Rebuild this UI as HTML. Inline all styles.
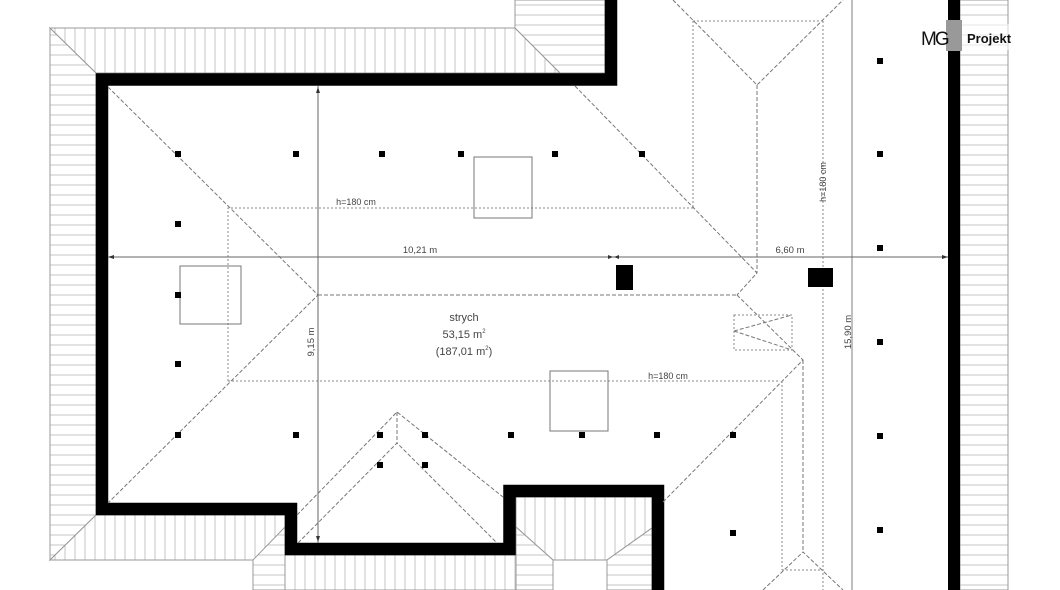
<!DOCTYPE html>
<html><head><meta charset="utf-8"><style>
html,body{margin:0;padding:0;background:#fff;}
svg{display:block;}
text{font-family:"Liberation Sans",sans-serif;fill:#444;}
</style></head><body>
<svg width="1060" height="590" viewBox="0 0 1060 590" xmlns="http://www.w3.org/2000/svg">
<defs>
<pattern id="hh" width="10" height="10" patternUnits="userSpaceOnUse"><rect width="10" height="10" fill="#fff"/><line x1="0" y1="5" x2="10" y2="5" stroke="#c4c4c4" stroke-width="1"/></pattern>
<pattern id="vv" width="10" height="10" patternUnits="userSpaceOnUse"><rect width="10" height="10" fill="#fff"/><line x1="5" y1="0" x2="5" y2="10" stroke="#c4c4c4" stroke-width="1"/></pattern>
</defs>

<polygon points="50,28 96,73 96,515 50,560" fill="url(#hh)" stroke="#999" stroke-width="1"/>
<polygon points="50,28 515,28 560,73 96,73" fill="url(#vv)" stroke="#999" stroke-width="1"/>
<polygon points="515,0 605,0 605,73 560,73 515,28" fill="url(#hh)" stroke="#999" stroke-width="1"/>
<polygon points="50,560 96,515 285,515 285,560" fill="url(#vv)" stroke="#999" stroke-width="1"/>
<polygon points="253,560 285,527 285,590 253,590" fill="url(#hh)" stroke="#999" stroke-width="1"/>
<polygon points="285,555 516,555 516,590 285,590" fill="url(#vv)" stroke="#999" stroke-width="1"/>
<polygon points="516,497 652,497 652,528 607,560 553,560 516,527" fill="url(#vv)" stroke="#999" stroke-width="1"/>
<polygon points="516,527 553,560 553,590 516,590" fill="url(#hh)" stroke="#999" stroke-width="1"/>
<polygon points="652,528 652,590 607,590 607,560" fill="url(#hh)" stroke="#999" stroke-width="1"/>
<rect x="960" y="0" width="48" height="590" fill="url(#hh)" stroke="#999" stroke-width="1"/>

<path d="M611,0 L611,79.5 L102,79.5 L102,509 L291,509 L291,549 L509.5,549 L509.5,491 L658,491 L658,590" fill="none" stroke="#000" stroke-width="12.5"/>
<rect x="948" y="0" width="12" height="590" fill="#000"/>

<g fill="none" stroke="#777" stroke-width="1" stroke-dasharray="4,2">
<polyline points="108,87 318,295 108,503"/>
<line x1="318" y1="295" x2="737" y2="295"/>
<polyline points="575,86 757,273 737,295"/>
<polyline points="737,295 803,360 663,502"/>
<polyline points="673,0 757,85 843,0"/>
<line x1="757" y1="85" x2="757" y2="273"/>
<line x1="803" y1="360" x2="803" y2="552"/>
<polyline points="763,590 803,552 843,590"/>
<polyline points="297,515 397,412 503,497"/>
<polyline points="298,543 397,443 497,543"/>
<line x1="397" y1="412" x2="397" y2="443"/>
<line x1="734" y1="331" x2="792" y2="350"/>
<line x1="734" y1="331" x2="792" y2="315"/>
</g>
<g fill="none" stroke="#888" stroke-width="1" stroke-dasharray="2,2">
<polyline points="228,381 228,208 695,208"/>
<line x1="228" y1="381" x2="780" y2="381"/>
<line x1="693" y1="21" x2="823" y2="21"/>
<line x1="693" y1="21" x2="693" y2="208"/>
<line x1="823" y1="21" x2="823" y2="590"/>
<line x1="782" y1="381" x2="782" y2="570"/>
<line x1="782" y1="570" x2="823" y2="570"/>
<rect x="734" y="315" width="58" height="35"/>
</g>
<line x1="852" y1="0" x2="852" y2="590" stroke="#aaa" stroke-width="1.5"/>

<g fill="none" stroke="#777" stroke-width="1">
<rect x="474" y="157" width="58" height="61"/>
<rect x="180" y="266" width="61" height="58"/>
<rect x="550" y="371" width="58" height="60"/>
</g>

<g stroke="#666" stroke-width="1">
<line x1="108" y1="257" x2="948" y2="257"/>
<line x1="318" y1="86" x2="318" y2="543"/>
</g>
<g fill="#333">
<polygon points="108,257 114,255 114,259"/>
<polygon points="613,257 608,255 608,259"/>
<polygon points="614,257 619,255 619,259"/>
<polygon points="948,257 942,255 942,259"/>
<polygon points="318,87 316,93 320,93"/>
<polygon points="318,542 316,536 320,536"/>
</g>

<g fill="#000">
<rect x="175" y="151" width="6" height="6"/><rect x="293" y="151" width="6" height="6"/><rect x="379" y="151" width="6" height="6"/><rect x="458" y="151" width="6" height="6"/><rect x="552" y="151" width="6" height="6"/><rect x="639" y="151" width="6" height="6"/>
<rect x="175" y="221" width="6" height="6"/><rect x="175" y="292" width="6" height="6"/><rect x="175" y="361" width="6" height="6"/>
<rect x="175" y="432" width="6" height="6"/><rect x="293" y="432" width="6" height="6"/><rect x="377" y="432" width="6" height="6"/><rect x="422" y="432" width="6" height="6"/><rect x="508" y="432" width="6" height="6"/><rect x="579" y="432" width="6" height="6"/><rect x="654" y="432" width="6" height="6"/><rect x="730" y="432" width="6" height="6"/>
<rect x="377" y="462" width="6" height="6"/><rect x="422" y="462" width="6" height="6"/><rect x="730" y="530" width="6" height="6"/>
<rect x="877" y="58" width="6" height="6"/><rect x="877" y="151" width="6" height="6"/><rect x="877" y="245" width="6" height="6"/><rect x="877" y="339" width="6" height="6"/><rect x="877" y="433" width="6" height="6"/><rect x="877" y="527" width="6" height="6"/>
<rect x="616" y="265" width="17" height="25"/>
<rect x="808" y="268" width="25" height="19"/>
</g>

<text x="420" y="253" font-size="9.5" text-anchor="middle">10,21 m</text>
<text x="790" y="253" font-size="9.5" text-anchor="middle">6,60 m</text>
<text x="356" y="205" font-size="9" text-anchor="middle">h=180 cm</text>
<text x="668" y="379" font-size="9" text-anchor="middle">h=180 cm</text>
<text transform="translate(826,182) rotate(-90)" font-size="9" text-anchor="middle">h=180 cm</text>
<text transform="translate(314,342) rotate(-90)" font-size="9.5" text-anchor="middle">9,15 m</text>
<text transform="translate(851,332) rotate(-90)" font-size="9.5" text-anchor="middle">15,90 m</text>
<text x="464" y="321" font-size="11" text-anchor="middle">strych</text>
<text x="464" y="338" font-size="11" text-anchor="middle">53,15 m<tspan font-size="6" dy="-5">2</tspan></text>
<text x="464" y="355" font-size="11" text-anchor="middle">(187,01 m<tspan font-size="6" dy="-5">2</tspan><tspan dy="5">)</tspan></text>

<rect x="920" y="24" width="110" height="26" fill="#fff" fill-opacity="0.6"/>
<rect x="946" y="20" width="16" height="31" fill="#999"/>
<text x="921" y="45" font-size="19" style="fill:#111" letter-spacing="-2">MG</text>
<text x="967" y="43" font-size="13" style="fill:#111" font-weight="bold">Projekt</text>
</svg>
</body></html>
